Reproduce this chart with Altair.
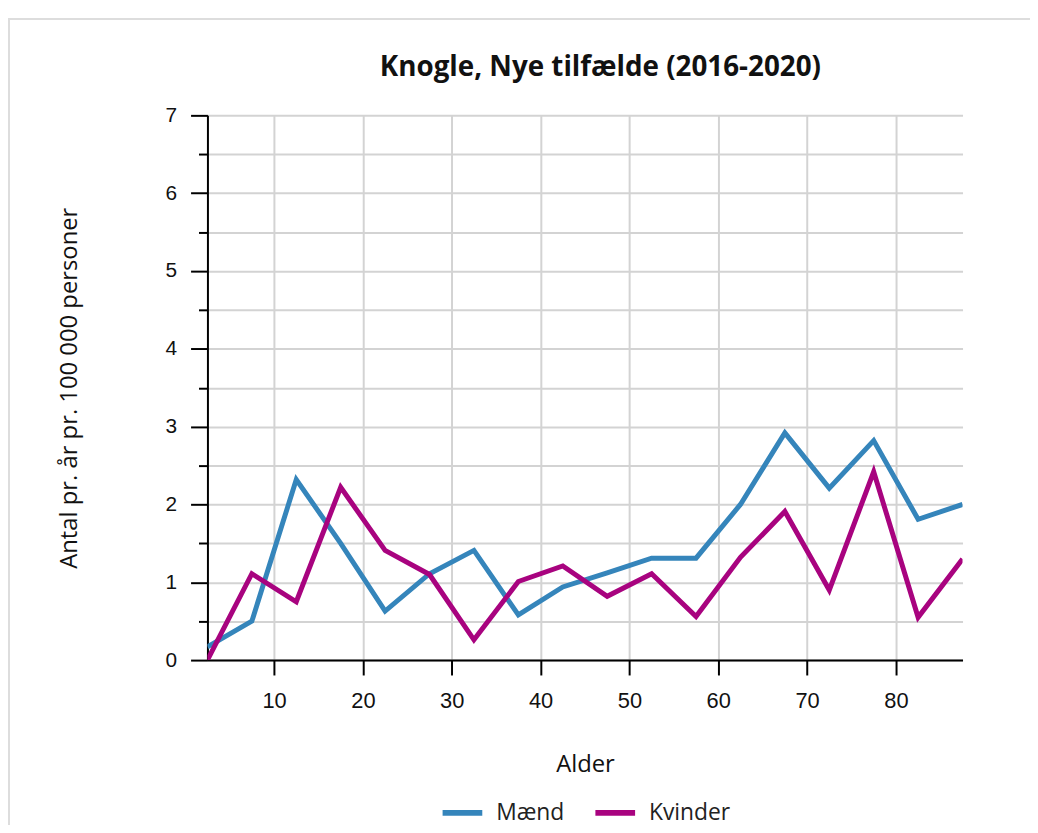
import altair as alt
import pandas as pd

ages = [2.5, 7.5, 12.5, 17.5, 22.5, 27.5, 32.5, 37.5, 42.5, 47.5,
        52.5, 57.5, 62.5, 67.5, 72.5, 77.5, 82.5, 87.5]
maend = [0.17, 0.5, 2.32, 1.5, 0.63, 1.11, 1.41, 0.58, 0.94, 1.12,
         1.31, 1.31, 2.0, 2.92, 2.21, 2.82, 1.81, 2.0]
kvinder = [0.0, 1.11, 0.75, 2.22, 1.41, 1.1, 0.26, 1.01, 1.21, 0.82,
           1.11, 0.56, 1.32, 1.91, 0.9, 2.42, 0.55, 1.3]
series = ["Mænd", "Kvinder"]
colors = ["#3585bb", "#a8037f"]
x_ticks = [10, 20, 30, 40, 50, 60, 70, 80]
y_ticks = [i * 0.5 for i in range(15)]
title_text = ["Knogle, Nye tilfælde (2016-2020)"]

rows = []
for a, m, k in zip(ages, maend, kvinder):
    rows.append({"Alder": a, "Køn": "Mænd", "Værdi": m})
    rows.append({"Alder": a, "Køn": "Kvinder", "Værdi": k})
df = pd.DataFrame(rows)

lines = alt.Chart(df).mark_line(strokeWidth=5, strokeJoin="miter", clip=True).encode(
    x=alt.X("Alder:Q", scale=alt.Scale(domain=[2.5, 87.5], nice=False, zero=False),
            axis=alt.Axis(values=x_ticks, title="Alder", tickSize=15, labelPadding=16,
                          labelFontSize=22, titlePadding=41)),
    y=alt.Y("Værdi:Q", scale=alt.Scale(domain=[0, 7], nice=False),
            axis=alt.Axis(values=y_ticks, title="Antal pr. år pr. 100 000 personer",
                          format=".0f",
                          labelExpr="datum.value % 1 === 0 ? datum.label : ''",
                          tickSize={"condition": {"test": "datum.value % 1 === 0", "value": 17}, "value": 9},
                          labelPadding=14, titlePadding=84)),
    color=alt.Color("Køn:N", scale=alt.Scale(domain=series, range=colors),
                    legend=alt.Legend(title=None, orient="none", direction="horizontal",
                                      legendX=234, legendY=680, symbolType="stroke",
                                      symbolSize=1600, symbolStrokeWidth=6,
                                      labelFontSize=23, labelFont="Open Sans", labelColor="#222",
                                      columnPadding=19, labelOffset=11)),
)

frame = alt.Chart(pd.DataFrame({"k": [0]})).mark_rect(
    fill=None, stroke="#dddddd", strokeWidth=2, clip=False
).encode(x=alt.value(-200), x2=alt.value(1000), y=alt.value(-97), y2=alt.value(900))

title = alt.Chart(pd.DataFrame({"t": title_text})).mark_text(
    font="Open Sans", fontSize=28, fontWeight="bold", color="#111",
    align="center", baseline="alphabetic"
).encode(text="t:N", x=alt.value(396), y=alt.value(-40))

chart = alt.layer(frame, lines, title).properties(
    width=761, height=549,
    autosize=alt.AutoSizeParams(type="none"),
    padding={"left": 201, "top": 105, "right": 68, "bottom": 163},
).configure_view(stroke=None).configure_axis(
    domainColor="black", domainWidth=2, tickColor="black", tickWidth=2,
    gridColor="#d3d3d3", gridWidth=2,
    labelFont="Liberation Sans", labelFontSize=21, labelColor="#111",
    titleFont="Open Sans", titleFontSize=24, titleFontWeight="normal", titleColor="#111",
).configure_axisY(titleFontSize=24)

chart.save("out.html", embed_options={"renderer": "svg", "actions": False})
